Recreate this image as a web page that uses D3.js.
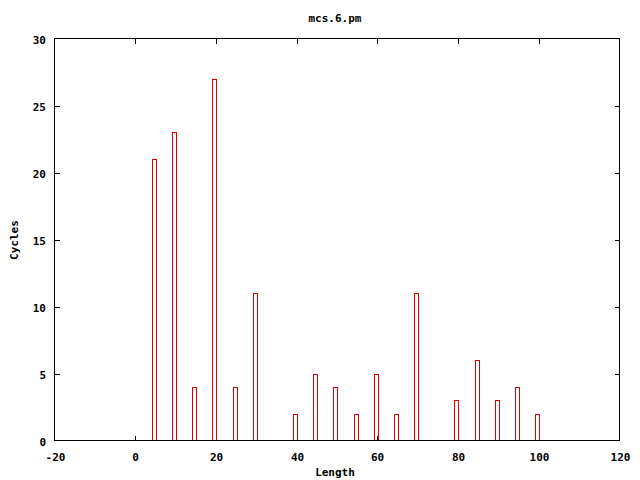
<!DOCTYPE html>
<html><head><meta charset="utf-8">
<script src="https://cdn.jsdelivr.net/npm/d3@7"></script>
<style>body{margin:0;background:#fff}text{font-family:"DejaVu Sans Mono","Liberation Mono",monospace;font-weight:bold;font-size:11px;fill:#000}</style>
</head><body>
<script>
const lengths = [5,10,15,20,25,30,40,45,50,55,60,65,70,80,85,90,95,100];
const cycles  = [21,23,4,27,4,11,2,5,4,2,5,2,11,3,6,3,4,2];
const xTicks = [-20,0,20,40,60,80,100,120];
const yTicks = [0,5,10,15,20,25,30];

const W=640,H=480, L=54.5, R=619.5, T=38.5, B=440.5;
const svg=d3.select("body").append("svg").attr("width",W).attr("height",H).attr("shape-rendering","crispEdges");
const x=d3.scaleLinear().domain([-20,120]).range([L,R]);
const y=d3.scaleLinear().domain([0,30]).range([B,T]);

const tl=5;
xTicks.forEach(v=>{
  const px=Math.round(x(v))+0.5;
  if(v>-20&&v<120){
    svg.append("line").attr("x1",px).attr("x2",px).attr("y1",B).attr("y2",B-tl).attr("stroke","#000");
    svg.append("line").attr("x1",px).attr("x2",px).attr("y1",T).attr("y2",T+tl).attr("stroke","#000");
  }
  svg.append("text").attr("x",px).attr("y",461).attr("text-anchor","middle").text(v);
});
yTicks.forEach(v=>{
  const py=Math.round(y(v))+0.5;
  if(v>0&&v<30){
    svg.append("line").attr("x1",L).attr("x2",L+tl).attr("y1",py).attr("y2",py).attr("stroke","#000");
    svg.append("line").attr("x1",R).attr("x2",R-tl).attr("y1",py).attr("y2",py).attr("stroke","#000");
  }
  svg.append("text").attr("x",46).attr("y",py+4).attr("text-anchor","end").text(v);
});
// bars
svg.append("g").selectAll("path").data(lengths).join("path")
  .attr("d",(d,i)=>{
    const x0=Math.round(x(d-0.15))-2.5, x1=x0+4;
    const yt=Math.round(y(cycles[i]))+0.5;
    return `M${x0},${B}V${yt}H${x1}V${B}`;
  })
  .attr("fill","none").attr("stroke","#e00000");

svg.append("rect").attr("x",L).attr("y",T).attr("width",R-L).attr("height",B-T).attr("fill","none").attr("stroke","#000");

svg.append("text").attr("x",335).attr("y",22).attr("text-anchor","middle").text("mcs.6.pm");
svg.append("text").attr("x",335).attr("y",476).attr("text-anchor","middle").text("Length");
svg.append("text").attr("transform","translate(18,240) rotate(-90)").attr("text-anchor","middle").text("Cycles");
</script>
</body></html>
